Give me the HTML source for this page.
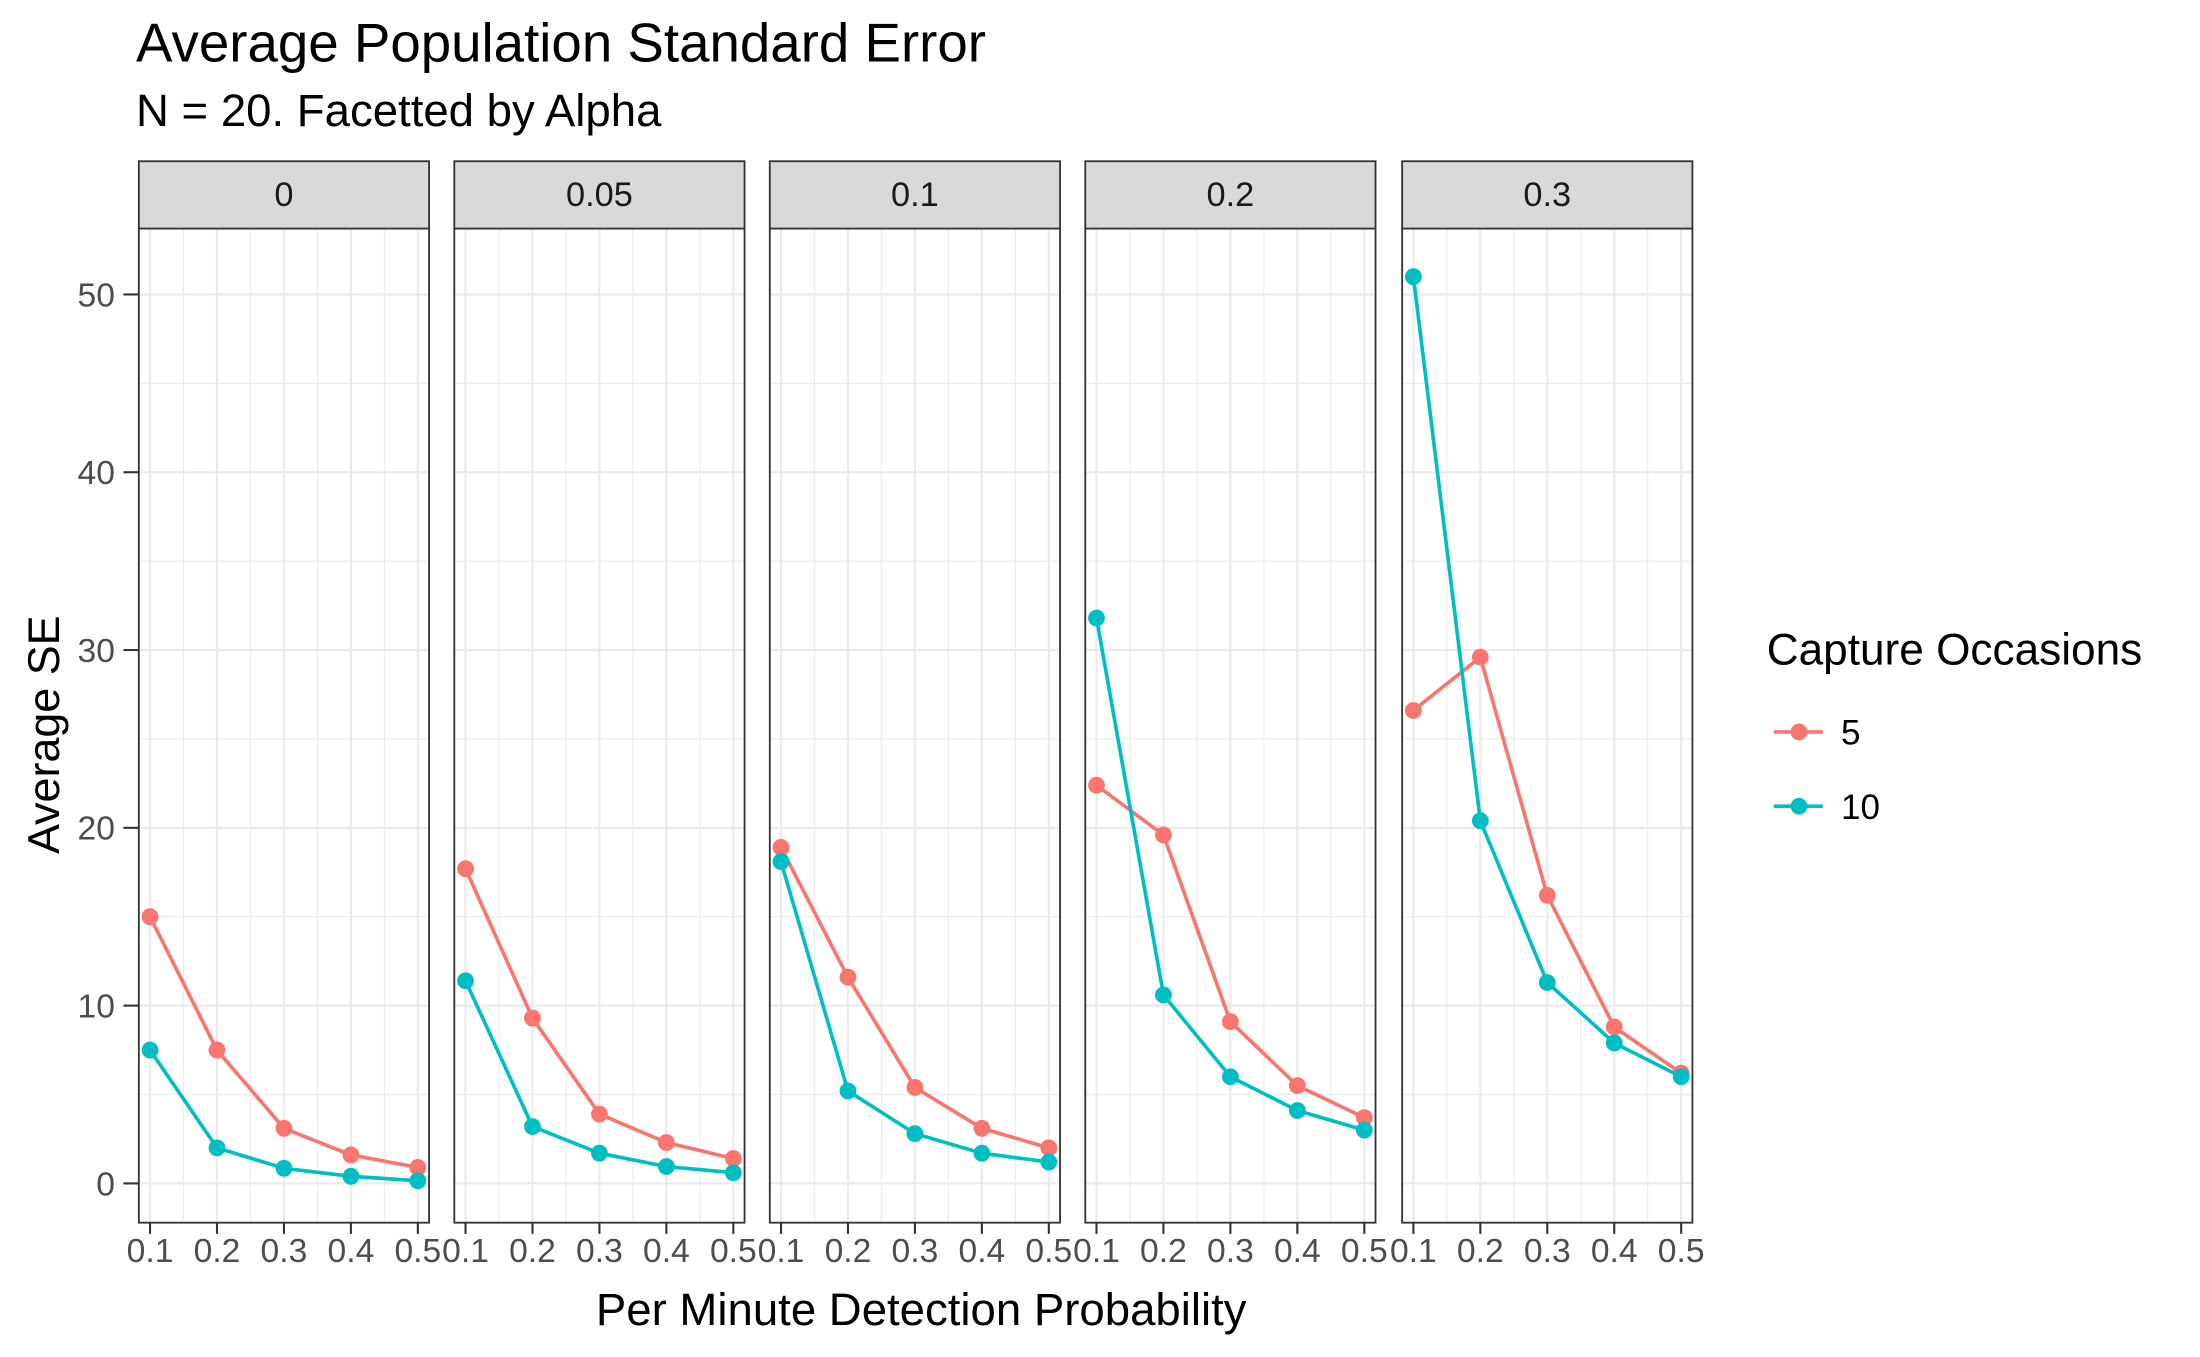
<!DOCTYPE html>
<html><head><meta charset="utf-8"><style>
html,body{margin:0;padding:0;background:#fff}
svg{display:block;font-family:"Liberation Sans",Arial,sans-serif}
</style></head><body>
<svg id="chart" width="2200" height="1357" viewBox="0 0 1569 967.8" xmlns="http://www.w3.org/2000/svg">
<rect width="1569" height="968" fill="#fff"/>
<text x="97" y="44" font-size="39" fill="#000">Average Population Standard Error</text>
<text x="97" y="90" font-size="32.5" fill="#000">N = 20. Facetted by Alpha</text>
<g id="panels"></g>
<text transform="translate(42,524) rotate(-90)" text-anchor="middle" font-size="32" fill="#000">Average SE</text>
<text x="657" y="945" text-anchor="middle" font-size="32.5" fill="#000">Per Minute Detection Probability</text>
<g>
<text x="1260" y="474" font-size="31.5" fill="#000">Capture Occasions</text>
<g>
<line x1="1265" y1="522" x2="1300" y2="522" stroke="#F8766D" stroke-width="2.6"/>
<circle cx="1283" cy="522" r="6" fill="#F8766D"/>
<text x="1313" y="531" font-size="25" fill="#000">5</text></g>
<g>
<line x1="1265" y1="575" x2="1300" y2="575" stroke="#00BFC4" stroke-width="2.6"/>
<circle cx="1283" cy="575" r="6" fill="#00BFC4"/>
<text x="1313" y="584" font-size="25" fill="#000">10</text></g>
</g>
</svg>
<script>
const facets = ["0","0.05","0.1","0.2","0.3"];
const probs = [0.1,0.2,0.3,0.4,0.5];
const probLabels = ["0.1","0.2","0.3","0.4","0.5"];
const yTicks = [0,10,20,30,40,50];
const yMinor = [5,15,25,35,45];
const xMinor = [0.15,0.25,0.35,0.45];
const series5 = [
  [15.0,7.5,3.1,1.6,0.9],
  [17.7,9.3,3.9,2.3,1.4],
  [18.9,11.6,5.4,3.1,2.0],
  [22.4,19.6,9.1,5.5,3.7],
  [26.6,29.6,16.2,8.8,6.2]
];
const series10 = [
  [7.5,2.0,0.85,0.4,0.15],
  [11.4,3.2,1.7,0.95,0.6],
  [18.1,5.2,2.8,1.7,1.2],
  [31.8,10.6,6.0,4.1,3.0],
  [51.0,20.4,11.3,7.9,6.0]
];
const NS="http://www.w3.org/2000/svg";
const root=document.getElementById('panels');
const panelLefts=[99,324,549,774,1000], pw=207, pTop=163, pBottom=872;
function yS(v){return 844-v*12.68;}
function mk(tag,attrs,parent){const e=document.createElementNS(NS,tag);for(const k in attrs)e.setAttribute(k,attrs[k]);parent.appendChild(e);return e;}
yTicks.forEach(t=>{
  const tx=mk('text',{x:82,y:yS(t)+8.5,'text-anchor':'end','font-size':24,fill:'#4D4D4D'},root);
  
  
  tx.textContent=t;
  mk('line',{x1:88,x2:99,y1:yS(t),y2:yS(t),stroke:'#333','stroke-width':1.5},root);
});
facets.forEach((f,i)=>{
  const L=panelLefts[i];
  const xS=p=>L+8+(p-0.1)/0.4*191;
  const g=mk('g',{},root);
  
  
  mk('rect',{x:L,y:pTop,width:pw,height:pBottom-pTop,fill:'#fff'},g);
  yMinor.forEach(t=>mk('line',{x1:L,x2:L+pw,y1:yS(t),y2:yS(t),stroke:'#EBEBEB','stroke-width':0.8},g));
  xMinor.forEach(p=>mk('line',{x1:xS(p),x2:xS(p),y1:pTop,y2:pBottom,stroke:'#EBEBEB','stroke-width':0.8},g));
  yTicks.forEach(t=>mk('line',{x1:L,x2:L+pw,y1:yS(t),y2:yS(t),stroke:'#EBEBEB','stroke-width':1.6},g));
  probs.forEach((p,j)=>{
    mk('line',{x1:xS(p),x2:xS(p),y1:pTop,y2:pBottom,stroke:'#EBEBEB','stroke-width':1.6},g);
    mk('line',{x1:xS(p),x2:xS(p),y1:pBottom,y2:pBottom+8,stroke:'#333','stroke-width':1.5},g);
    const tl=mk('text',{x:xS(p),y:900,'text-anchor':'middle','font-size':24,fill:'#4D4D4D'},g);
    
    
    tl.textContent=probLabels[j];
  });
  [[series5[i],'#F8766D','5'],[series10[i],'#00BFC4','10']].forEach(([vals,col,nm])=>{
    const pl=mk('polyline',{points:vals.map((v,j)=>xS(probs[j])+','+yS(v)).join(' '),fill:'none',stroke:col,'stroke-width':2.6},g);
    
    
    vals.forEach((v,j)=>{
      const c=mk('circle',{cx:xS(probs[j]),cy:yS(v),r:6,fill:col},g);
      
      
    });
  });
  mk('rect',{x:L,y:pTop,width:pw,height:pBottom-pTop,fill:'none',stroke:'#333','stroke-width':1.3},g);
  const s=mk('rect',{x:L,y:115,width:pw,height:48,fill:'#D9D9D9',stroke:'#333','stroke-width':1.3},g);
  
  
  const st=mk('text',{x:L+pw/2,y:147,'text-anchor':'middle','font-size':24.5,fill:'#1A1A1A'},g);
  
  
  st.textContent=f;
});
</script>
</body></html>
